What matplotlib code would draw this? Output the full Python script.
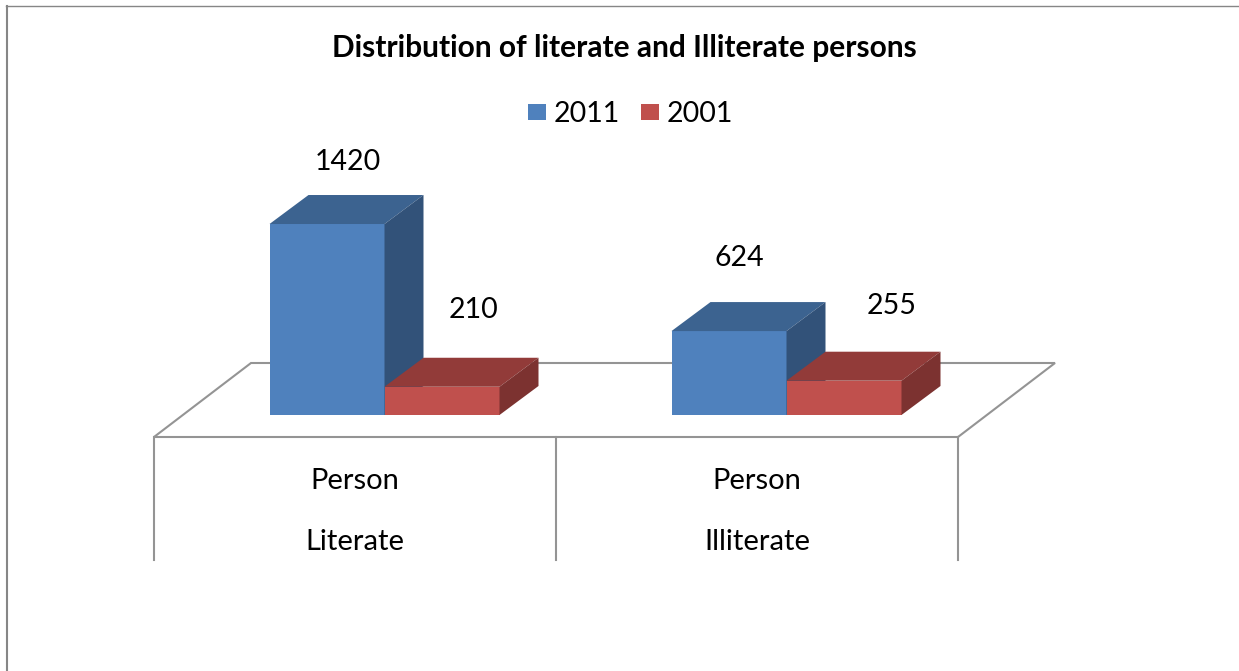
import matplotlib
matplotlib.use('Agg')
import matplotlib.pyplot as plt
from matplotlib.patches import Polygon, Rectangle

plt.rcParams['font.family'] = ['Lato', 'DejaVu Sans']

title = 'Distribution of literate and Illiterate persons'
categories = ['Literate', 'Illiterate']
group_label = 'Person'
series_names = ['2011', '2001']
values_2011 = [1420, 624]
values_2001 = [210, 255]

W, H = 1239, 671
PX_PER_UNIT = 0.1345
CAT_W = 402
FLOOR_L = 154
BASE_Y = 415

# hand placed data labels, offset in px from the top of each bar
label_off_2011 = [(21, 33), (10, 44)]
label_off_2001 = [(31, 48), (48, 46)]


def xpx(px):
    return (px - FLOOR_L) / CAT_W


def ypx(py):
    return (BASE_Y - py) / PX_PER_UNIT


fig = plt.figure(figsize=(W / 100, H / 100), dpi=100)
ax = fig.add_axes([0, 0, 1, 1])
ax.set_xlim(xpx(0), xpx(W))
ax.set_ylim(ypx(H), ypx(0))
ax.axis('off')

line_c = '#949494'
# floor and the category box below it
dx_floor, dy_floor = 97 / CAT_W, 74 / PX_PER_UNIT
f0 = ypx(437)
ax.add_patch(Polygon([(0, f0), (2, f0), (2 + dx_floor, f0 + dy_floor), (dx_floor, f0 + dy_floor)],
                     closed=True, fc='white', ec=line_c, lw=1.5, zorder=1))
for i in range(3):
    ax.plot([i, i], [f0, ypx(560)], color=line_c, lw=1.5, zorder=1)

# outer chart border, top and left edges only
ax.plot([xpx(7), xpx(7)], [ypx(H), ypx(6)], color='#868686', lw=1.5)
ax.plot([xpx(6), xpx(W)], [ypx(6.5), ypx(6.5)], color='#868686', lw=1.0)

colors = {'2011': ('#4f81bd', '#3c6390', '#325279'), '2001': ('#c0504d', '#923b39', '#7c3230')}
bar_w = 115 / CAT_W
dx, dy = 39 / CAT_W, 29 / PX_PER_UNIT
shift = 29.5 / CAT_W


def bar3d(x0, h, name):
    front, top, side = colors[name]
    ax.bar(x0, h, width=bar_w, align='edge', color=front, zorder=3)
    x1 = x0 + bar_w
    ax.add_patch(Polygon([(x0, h), (x1, h), (x1 + dx, h + dy), (x0 + dx, h + dy)], fc=top, zorder=3))
    ax.add_patch(Polygon([(x1, 0), (x1 + dx, dy), (x1 + dx, h + dy), (x1, h)], fc=side, zorder=3))


for i in range(len(categories)):
    center = i + 0.5 + shift
    bar3d(center - bar_w, values_2011[i], '2011')
    bar3d(center, values_2001[i], '2001')
    ox, oy = label_off_2011[i]
    ax.text(center - bar_w / 2 + ox / CAT_W, values_2011[i] + dy + oy / PX_PER_UNIT, str(values_2011[i]),
            ha='center', va='center', fontsize=20.5)
    ox, oy = label_off_2001[i]
    ax.text(center + bar_w / 2 + ox / CAT_W, values_2001[i] + dy + oy / PX_PER_UNIT, str(values_2001[i]),
            ha='center', va='center', fontsize=20.5)
    ax.text(i + 0.5, ypx(481), group_label, ha='center', va='center', fontsize=21)
    ax.text(i + 0.5, ypx(542), categories[i], ha='center', va='center', fontsize=21)

ax.text(xpx(624), ypx(48), title, ha='center', va='center', fontsize=21.5, fontweight='bold')

# legend
ax.add_patch(Rectangle((xpx(528), ypx(120)), 18 / CAT_W, 16 / PX_PER_UNIT, fc=colors['2011'][0], zorder=3))
ax.text(xpx(554), ypx(114), series_names[0], ha='left', va='center', fontsize=20.5)
ax.add_patch(Rectangle((xpx(641), ypx(120)), 18 / CAT_W, 16 / PX_PER_UNIT, fc=colors['2001'][0], zorder=3))
ax.text(xpx(667), ypx(114), series_names[1], ha='left', va='center', fontsize=20.5)

fig.savefig('out.png', dpi=100)
